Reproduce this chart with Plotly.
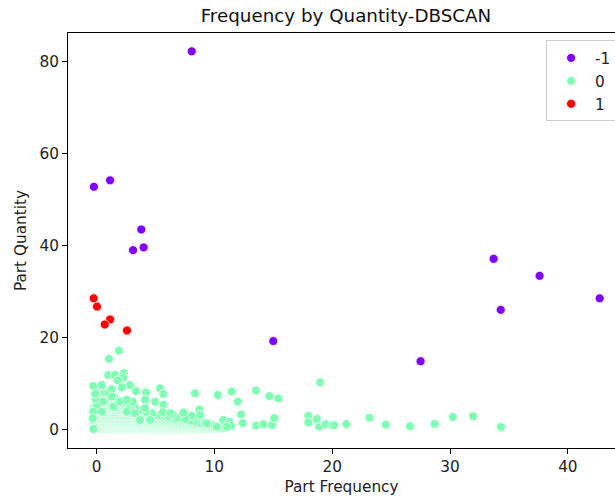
import plotly.graph_objects as go

# ---- cluster -1 (noise) ----
noise_x = [8.08, -0.22, 1.15, 3.8, 4.0, 3.1, 15.0, 27.5, 33.7, 34.3, 37.6, 42.7]
noise_y = [82.3, 52.8, 54.2, 43.5, 39.6, 39.0, 19.2, 14.8, 37.1, 26.0, 33.4, 28.5]

# ---- cluster 1 ----
c1_x = [-0.24, 0.04, 1.15, 0.70, 2.59]
c1_y = [28.5, 26.7, 23.9, 22.8, 21.5]

# ---- cluster 0: dense bottom-left mass (rows of near-equal quantity) ----
dense_y_levels = [0.1, 0.3, 0.5, 0.75, 0.95, 1.15, 1.4, 1.65, 1.9, 2.2, 2.5, 2.8, 3.1, 3.45, 3.8, 4.15,
                  4.5, 4.9, 5.3, 5.75, 6.2, 6.65, 7.1, 8.0]
dense_x_rows = [
    [-0.25, -0.05, 0.15, 0.35, 0.55, 0.8, 1.0, 1.2, 1.45, 1.65, 1.9, 2.1, 2.35, 2.55, 2.8, 3.0, 3.25, 3.5, 3.7, 3.95,
     4.2, 4.4, 4.65, 4.9, 5.1, 5.35, 5.6, 5.85, 6.1, 6.35, 6.6, 6.85, 7.1, 7.35, 7.6, 7.85, 8.1, 8.35, 8.6, 8.85,
     9.1, 9.4, 9.7, 10.0, 10.3],
    [-0.1, 0.1, 0.3, 0.45, 0.7, 0.9, 1.15, 1.3, 1.55, 1.8, 2.0, 2.2, 2.45, 2.65, 2.9, 3.1, 3.4, 3.6, 3.8, 4.05,
     4.3, 4.5, 4.75, 5.0, 5.2, 5.45, 5.7, 5.95, 6.2, 6.45, 6.7, 6.95, 7.2, 7.45, 7.7, 7.95, 8.2, 8.45, 8.7, 8.95,
     9.25, 9.55, 9.85, 10.15, 10.45, 10.8],
    [-0.15, 0.05, 0.25, 0.5, 0.7, 0.9, 1.1, 1.35, 1.55, 1.8, 2.0, 2.25, 2.45, 2.7, 2.9, 3.15, 3.4, 3.6, 3.85, 4.1,
     4.3, 4.55, 4.8, 5.0, 5.25, 5.5, 5.75, 6.0, 6.25, 6.5, 6.75, 7.0, 7.25, 7.5, 7.75, 8.0, 8.25, 8.5, 8.75, 9.0,
     9.3, 9.6, 9.9, 10.2, 10.6],
    [-0.05, 0.15, 0.35, 0.6, 0.8, 1.0, 1.25, 1.45, 1.7, 1.9, 2.1, 2.35, 2.55, 2.8, 3.0, 3.25, 3.5, 3.7, 3.95, 4.2,
     4.4, 4.65, 4.9, 5.15, 5.4, 5.65, 5.9, 6.15, 6.4, 6.6, 6.85, 7.1, 7.4, 7.7, 8.0, 8.3, 8.6, 8.9, 9.2, 9.5,
     9.9, 10.3, 11.1],
    [-0.2, 0.0, 0.2, 0.4, 0.65, 0.85, 1.05, 1.3, 1.5, 1.75, 1.95, 2.2, 2.4, 2.65, 2.85, 3.1, 3.3, 3.55, 3.8, 4.0,
     4.25, 4.5, 4.75, 4.95, 5.2, 5.45, 5.7, 5.95, 6.2, 6.45, 6.7, 6.95, 7.2, 7.5, 7.8, 8.1, 8.4, 8.7, 9.0, 9.4,
     9.8, 10.5, 10.9],
    [-0.1, 0.1, 0.3, 0.5, 0.75, 0.95, 1.15, 1.4, 1.6, 1.85, 2.05, 2.3, 2.5, 2.75, 2.95, 3.2, 3.45, 3.65, 3.9, 4.15,
     4.4, 4.65, 4.9, 5.1, 5.35, 5.6, 5.85, 6.1, 6.35, 6.6, 6.9, 7.2, 7.5, 7.8, 8.2, 8.6, 9.0, 9.5],
    [-0.1, 0.1, 0.3, 0.55, 0.75, 1.0, 1.2, 1.4, 1.65, 1.85, 2.1, 2.3, 2.55, 2.75, 3.0, 3.2, 3.45, 3.7, 3.9, 4.15,
     4.4, 4.6, 4.85, 5.1, 5.35, 5.6, 5.9, 6.2, 6.5, 6.8, 7.1, 7.4, 7.7, 8.0, 8.4, 8.8, 9.2],
    [-0.25, 0.0, 0.2, 0.4, 0.6, 0.85, 1.05, 1.3, 1.5, 1.7, 1.95, 2.2, 2.4, 2.6, 2.85, 3.1, 3.3, 3.55, 3.8, 4.0,
     4.25, 4.5, 4.75, 5.0, 5.3, 5.6, 5.9, 6.3, 6.6, 7.0, 7.4, 7.8, 8.3],
    [-0.2, 0.05, 0.25, 0.45, 0.7, 0.9, 1.15, 1.35, 1.6, 1.8, 2.05, 2.25, 2.5, 2.7, 2.95, 3.2, 3.4, 3.65, 3.9, 4.1,
     4.35, 4.6, 4.9, 5.2, 5.5, 5.8, 6.1, 6.4, 6.8, 7.2, 7.6, 8.0],
    [0.0, 0.2, 0.4, 0.65, 0.85, 1.1, 1.3, 1.55, 1.75, 2.0, 2.2, 2.45, 2.65, 2.9, 3.1, 3.35, 3.6, 3.85, 4.1, 4.4,
     4.7, 5.0, 5.4, 5.7, 6.1, 6.5, 7.0],
    [-0.1, 0.15, 0.35, 0.6, 0.8, 1.05, 1.25, 1.5, 1.7, 1.95, 2.15, 2.4, 2.6, 2.85, 3.1, 3.3, 3.55, 3.8, 4.05, 4.3,
     4.6, 4.9, 5.2, 5.6, 6.0, 6.4, 6.9],
    [-0.2, 0.05, 0.3, 0.5, 0.75, 0.95, 1.2, 1.4, 1.65, 1.85, 2.1, 2.35, 2.55, 2.8, 3.05, 3.3, 3.6, 3.9, 4.2, 4.5,
     4.8, 5.2, 5.6, 6.1],
    [0.0, 0.2, 0.45, 0.65, 0.9, 1.1, 1.35, 1.55, 1.8, 2.0, 2.25, 2.5, 2.7, 2.95, 3.2, 3.45, 3.7, 4.0, 4.3, 4.6,
     5.0, 5.4],
    [-0.1, 0.1, 0.35, 0.55, 0.8, 1.0, 1.2, 1.45, 1.7, 1.9, 2.15, 2.35, 2.6, 2.85, 3.1, 3.35, 3.65, 3.95, 4.3, 4.7],
    [-0.15, 0.1, 0.3, 0.55, 0.8, 1.0, 1.25, 1.45, 1.7, 1.95, 2.2, 2.4, 2.65, 2.9, 3.2, 3.5, 3.8, 4.2],
    [0.0, 0.2, 0.4, 0.65, 0.9, 1.1, 1.3, 1.55, 1.8, 2.05, 2.3, 2.55, 2.8, 3.1, 3.4, 3.7],
    [0.0, 0.25, 0.5, 0.7, 0.95, 1.2, 1.4, 1.65, 1.9, 2.15, 2.4, 2.7, 3.0, 3.3],
    [-0.2, 0.05, 0.3, 0.5, 0.75, 1.0, 1.2, 1.45, 1.7, 1.95, 2.25, 2.55, 2.9],
    [-0.1, 0.15, 0.4, 0.6, 0.85, 1.1, 1.35, 1.6, 1.85, 2.1, 2.4, 2.7],
    [0.0, 0.25, 0.5, 0.7, 0.95, 1.2, 1.45, 1.7, 1.95, 2.25],
    [0.05, 0.3, 0.55, 0.8, 1.05, 1.3, 1.55, 1.8, 2.1],
    [-0.15, 0.1, 0.35, 0.6, 0.85, 1.1, 1.35, 1.65],
    [-0.05, 0.2, 0.45, 0.7, 0.95, 1.2, 1.5],
    [0.1, 0.4, 0.7, 1.0],
]

# ---- cluster 0: clearly separated points ----
c0_x = [1.06, 1.91, 18.97, -0.27, 0.44, 1.0, 1.57, 2.33, 2.28, 1.80, 2.84, 3.35, 4.2, 5.39, 5.67,
        8.36, 10.29, 11.48, 13.54, 14.67, 15.43, 11.99, 12.27, 12.41, 13.54, 14.16, 14.9, 15.09,
        17.98, 18.69, 17.98, 18.9, 19.45, 19.96, 20.16, 21.2, 23.16, 24.55, 26.6, 28.7, 30.24, 31.96, 34.33,
        -0.27, -0.04, -0.13, 0.02, -0.27, -0.32, 1.29, 1.29, 2.14, 3.07, 4.12, 4.12, 4.97, 5.67, 5.62,
        6.47, 7.51, 8.08, 8.73, 8.79, 7.51, 9.35, 10.2, 10.77, 11.27, 11.42, 4.54, 3.69, 3.27, 2.56,
        1.99, 0.58, 0.44, 1.43, 2.56, 7.37, 6.24, 11.05]
c0_y = [15.3, 17.1, 10.2, 9.4, 9.6, 11.8, 11.8, 12.2, 11.2, 10.6, 9.6, 8.3, 8.0, 8.9, 7.7,
        7.8, 7.45, 8.2, 8.4, 7.2, 6.7, 6.0, 3.2, 1.3, 0.8, 1.07, 0.9, 2.4,
        2.9, 2.2, 1.5, 0.55, 1.1, 0.9, 0.85, 1.1, 2.5, 0.98, 0.63, 1.13, 2.66, 2.81, 0.48,
        0.04, 6.4, 7.7, 4.9, 3.8, 2.4, 8.7, 7.1, 9.1, 6.0, 6.4, 4.6, 6.0, 5.3, 3.7,
        3.2, 3.6, 2.9, 4.3, 3.1, 2.2, 1.3, 0.5, 2.0, 1.6, 0.7, 2.0, 2.0, 3.5, 3.8,
        6.0, 6.0, 3.8, 4.9, 6.4, 3.6, 3.5, 0.5]

x_ticks = [0, 10, 20, 30, 40]
y_ticks = [0, 20, 40, 60, 80]

# build cluster-0 arrays
g_x, g_y = [], []
for yl, row in zip(dense_y_levels, dense_x_rows):
    g_x.extend(row)
    g_y.extend([yl] * len(row))
g_x.extend(c0_x)
g_y.extend(c0_y)

FONT = "DejaVu Sans"
FS = 15.3
mk_line = dict(color="white", width=0.75)

fig = go.Figure()
fig.add_trace(go.Scatter(x=noise_x, y=noise_y, mode="markers", name="-1",
                         marker=dict(color="#8000ff", size=9, line=mk_line)))
fig.add_trace(go.Scatter(x=g_x, y=g_y, mode="markers", name="0",
                         marker=dict(color="#80ffb4", size=9, line=mk_line)))
fig.add_trace(go.Scatter(x=c1_x, y=c1_y, mode="markers", name="1",
                         marker=dict(color="#ff0000", size=9, line=mk_line)))

axis_common = dict(showgrid=False, zeroline=False, showline=True, linecolor="black", linewidth=1,
                   ticks="outside", ticklen=5, tickwidth=1, tickcolor="black",
                   tickfont=dict(family=FONT, size=FS, color="#222"))

fig.update_layout(
    width=615, height=499,
    margin=dict(l=68, r=0, t=33, b=51, autoexpand=False),
    paper_bgcolor="white", plot_bgcolor="white",
    font=dict(family=FONT, size=FS, color="#222"),
    title=dict(text="Frequency by Quantity-DBSCAN", x=346 / 615, xref="container", xanchor="center",
               y=1 - 16 / 499, yref="container", yanchor="middle",
               font=dict(family=FONT, size=18.3, color="#111")),
    xaxis=dict(range=[-2.42, 44.0], tickvals=x_ticks, mirror=True,
               title=dict(text="Part Frequency", standoff=5, font=dict(family=FONT, size=FS)),
               **axis_common),
    yaxis=dict(range=[-4.1, 86.3], tickvals=y_ticks,
               title=dict(text="Part Quantity", standoff=9, font=dict(family=FONT, size=FS)),
               **axis_common),
    legend=dict(x=0.874, y=0.982, xanchor="left", yanchor="top",
                bgcolor="rgba(255,255,255,0.8)", bordercolor="#cccccc", borderwidth=1,
                font=dict(family=FONT, size=FS, color="#222"), itemwidth=38,
                entrywidth=110, tracegroupgap=0),
    showlegend=True,
)

fig.write_html("out.html")
